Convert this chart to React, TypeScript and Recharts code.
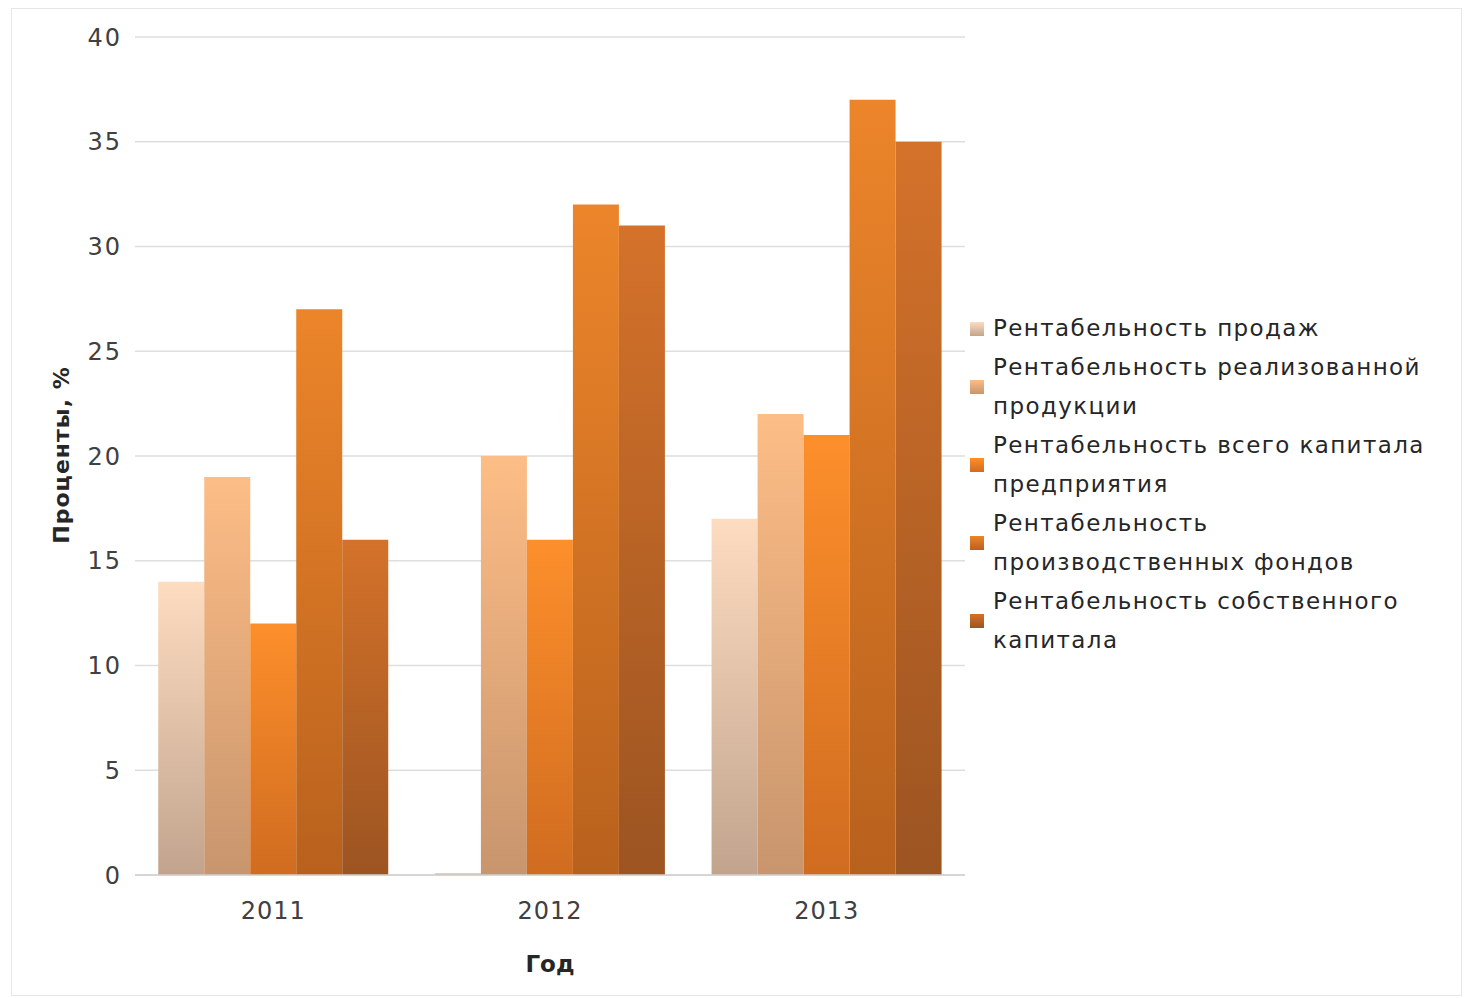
import React from "react";
import { BarChart, Bar, XAxis, YAxis, CartesianGrid } from "recharts";

const years = ["2011", "2012", "2013"];
const salesRoi = [14, 0.1, 17];
const realizedRoi = [19, 20, 22];
const totalCapitalRoi = [12, 16, 21];
const productionFundsRoi = [27, 32, 37];
const equityRoi = [16, 31, 35];
const yTicks = [0, 5, 10, 15, 20, 25, 30, 35, 40];

const seriesNames = [
  "Рентабельность продаж",
  "Рентабельность реализованной продукции",
  "Рентабельность всего капитала предприятия",
  "Рентабельность производственных фондов",
  "Рентабельность собственного капитала",
];

// top / bottom colours of the vertical gradient on each bar
const gradients = [
  ["#fddcc0", "#c2a48e"],
  ["#fdbd86", "#c8956d"],
  ["#fd8f2b", "#d06c20"],
  ["#ec852a", "#b8611d"],
  ["#d4722a", "#9c5421"],
];

const chartData = years.map((year, i) => ({
  year,
  s0: salesRoi[i],
  s1: realizedRoi[i],
  s2: totalCapitalRoi[i],
  s3: productionFundsRoi[i],
  s4: equityRoi[i],
}));

const FONT = "'DejaVu Sans', sans-serif";

function LegendList() {
  return (
    <div
      style={{
        position: "absolute",
        left: 970,
        top: 309,
        width: 480,
        fontFamily: FONT,
        fontSize: 23,
        letterSpacing: 1.4,
        color: "#262626",
        lineHeight: "39px",
      }}
    >
      {seriesNames.map((name, i) => (
        <div key={name} style={{ display: "flex", alignItems: "center" }}>
          <span
            style={{
              width: 14,
              height: 14,
              marginRight: 9,
              flex: "0 0 14px",
              background: `linear-gradient(${gradients[i][0]}, ${gradients[i][1]})`,
            }}
          />
          <span style={{ width: 450 }}>{name}</span>
        </div>
      ))}
    </div>
  );
}

export default function App() {
  return (
    <div style={{ position: "absolute", left: 0, top: 0, width: 1468, height: 998, background: "#fff" }}>
      <div
        style={{
          position: "absolute",
          left: 11,
          top: 8,
          width: 1451,
          height: 988,
          border: "1px solid #e6e6e6",
          boxSizing: "border-box",
        }}
      />
      <div style={{ position: "absolute", left: 0, top: 0 }}>
        <BarChart
          width={1468}
          height={998}
          data={chartData}
          margin={{ top: 37, right: 503, bottom: 23, left: 0 }}
          barCategoryGap="8.4%"
          barGap={0}
        >
          <defs>
            {gradients.map((g, i) => (
              <linearGradient key={i} id={`grad${i}`} x1="0" y1="0" x2="0" y2="1">
                <stop offset="0%" stopColor={g[0]} />
                <stop offset="100%" stopColor={g[1]} />
              </linearGradient>
            ))}
          </defs>
          <CartesianGrid vertical={false} stroke="#dedede" strokeWidth={1.5} />
          <XAxis
            dataKey="year"
            height={100}
            tickLine={false}
            axisLine={{ stroke: "#d0d0d0", strokeWidth: 1.5 }}
            tickSize={0}
            tickMargin={27}
            tick={{ fontFamily: FONT, fontSize: 24, fill: "#404040", letterSpacing: 1 }}
            label={{
              content: () => (
                <text x={550} y={972} textAnchor="middle" fontFamily={FONT} fontSize={23} fontWeight="bold" fill="#262626">
                  Год
                </text>
              ),
            }}
          />
          <YAxis
            width={135}
            domain={[0, 40]}
            ticks={yTicks}
            tickLine={false}
            axisLine={false}
            tickSize={0}
            tickMargin={13}
            tick={{ fontFamily: FONT, fontSize: 24, fill: "#404040", letterSpacing: 2 }}
            label={{
              content: () => (
                <text
                  x={69}
                  y={455}
                  transform="rotate(-90 69 455)"
                  textAnchor="middle"
                  fontFamily={FONT}
                  fontSize={22}
                  fontWeight="bold"
                  letterSpacing={1}
                  fill="#262626"
                >
                  Проценты, %
                </text>
              ),
            }}
          />
          {["s0", "s1", "s2", "s3", "s4"].map((key, i) => (
            <Bar key={key} dataKey={key} name={seriesNames[i]} fill={`url(#grad${i})`} isAnimationActive={false} />
          ))}
        </BarChart>
      </div>
      <LegendList />
    </div>
  );
}
